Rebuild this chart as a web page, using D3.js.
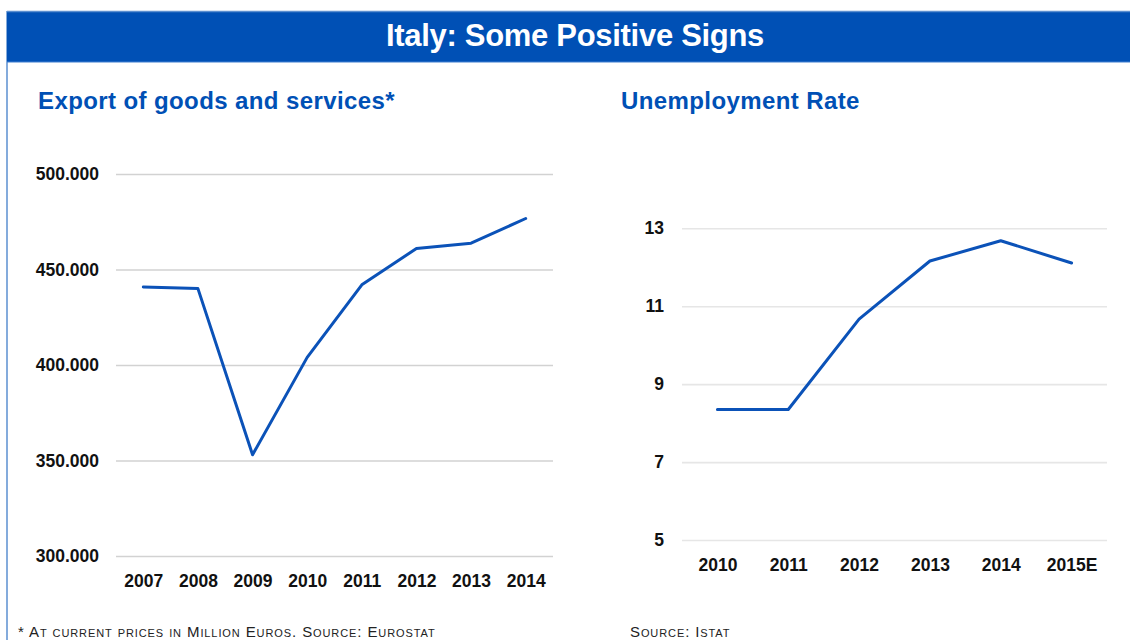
<!DOCTYPE html>
<html>
<head>
<meta charset="utf-8">
<script src="https://cdn.jsdelivr.net/npm/d3@7"></script>
<style>
  html, body { margin: 0; padding: 0; background: #fff; }
  svg { display: block; }
  text { font-family: "Liberation Sans", Arial, Helvetica, sans-serif; }
</style>
</head>
<body>
<svg id="chart" width="1130" height="640"></svg>
<script>
// ---------- DATA ----------
const title = "Italy: Some Positive Signs";

const exportTitle = "Export of goods and services*";
const exportYears = ["2007", "2008", "2009", "2010", "2011", "2012", "2013", "2014"];
const exportValues = [440.8, 440.0, 353.0, 404.0, 442.0, 461.0, 463.8, 476.7]; // thousand million euros
const exportTicks = [300, 350, 400, 450, 500];
const exportTickLabels = ["300.000", "350.000", "400.000", "450.000", "500.000"];
const exportNote = "* At current prices in Million Euros. Source: Eurostat";

const unempTitle = "Unemployment Rate";
const unempYears = ["2010", "2011", "2012", "2013", "2014", "2015E"];
const unempValues = [8.35, 8.35, 10.67, 12.16, 12.68, 12.11];
const unempTicks = [5, 7, 9, 11, 13];
const unempNote = "Source: Istat";

// ---------- STYLE ----------
const blue = "#0050b5";
const lineBlue = "#0b52b8";
const svg = d3.select("#chart");

// frame
svg.append("line").attr("x1", 7).attr("x2", 7).attr("y1", 11).attr("y2", 640)
  .attr("stroke", "#5b8fd0").attr("stroke-width", 1.5);
svg.append("rect").attr("x", 7).attr("y", 11).attr("width", 1123).attr("height", 51)
  .attr("fill", blue);
svg.append("line").attr("x1", 7).attr("x2", 1130).attr("y1", 11.5).attr("y2", 11.5)
  .attr("stroke", "#5b8fd0").attr("stroke-width", 1.5);
svg.append("line").attr("x1", 7).attr("x2", 1130).attr("y1", 62).attr("y2", 62)
  .attr("stroke", "#3f7fd0").attr("stroke-width", 1);
svg.append("text").attr("x", 575).attr("y", 46).attr("text-anchor", "middle")
  .attr("fill", "#fff").attr("font-weight", "bold").attr("font-size", 31)
  .attr("letter-spacing", -0.3)
  .text(title);

function panel(cfg) {
  const g = svg.append("g");
  g.append("text").attr("x", cfg.titleX).attr("y", 109)
    .attr("fill", blue).attr("font-weight", "bold").attr("font-size", 24)
    .attr("letter-spacing", 0.4)
    .text(cfg.title);

  const x = d3.scalePoint().domain(cfg.cats).range([cfg.x0, cfg.x1]).padding(0.5);
  const y = d3.scaleLinear().domain(cfg.domain).range([cfg.yBottom, cfg.yTop]);

  // grid + y labels
  const yAxis = d3.axisLeft(y).tickValues(cfg.ticks)
    .tickSize(-(cfg.x1 - cfg.x0)).tickPadding(cfg.labelGap)
    .tickFormat((d, i) => cfg.tickLabels ? cfg.tickLabels[i] : d);
  const ya = g.append("g").attr("transform", `translate(${cfg.x0},0)`).call(yAxis);
  ya.select(".domain").remove();
  ya.selectAll(".tick line").attr("stroke", cfg.gridColor).attr("stroke-width", 1.6);
  ya.selectAll(".tick text").attr("fill", "#111").attr("font-weight", "bold")
    .attr("font-size", 17.5).attr("font-family", "Liberation Sans, Arial, sans-serif");

  // x labels
  const xAxis = d3.axisBottom(x).tickSize(0).tickPadding(0);
  const xa = g.append("g").attr("transform", `translate(0,${cfg.xLabelY})`).call(xAxis);
  xa.select(".domain").remove();
  xa.selectAll(".tick text").attr("fill", "#111").attr("font-weight", "bold")
    .attr("font-size", 17.5).attr("dy", "0").attr("font-family", "Liberation Sans, Arial, sans-serif");

  // line
  const line = d3.line().x((d, i) => x(cfg.cats[i])).y(d => y(d));
  g.append("path").datum(cfg.values).attr("d", line)
    .attr("fill", "none").attr("stroke", lineBlue).attr("stroke-width", 3)
    .attr("stroke-linejoin", "round").attr("stroke-linecap", "round");

  // note
  g.append("text").attr("x", cfg.noteX).attr("y", 637)
    .attr("fill", "#222").attr("font-size", 15).attr("letter-spacing", 0.9)
    .style("font-variant", "small-caps")
    .text(cfg.note);
}

panel({
  title: exportTitle, titleX: 38,
  cats: exportYears, values: exportValues,
  domain: [300, 500], ticks: exportTicks, tickLabels: exportTickLabels,
  x0: 116, x1: 553, yTop: 174, yBottom: 556, labelGap: 17,
  gridColor: "#d2d2d2", xLabelY: 587,
  note: exportNote, noteX: 18
});

panel({
  title: unempTitle, titleX: 621,
  cats: unempYears, values: unempValues,
  domain: [5, 13], ticks: unempTicks, tickLabels: null,
  x0: 682, x1: 1107, yTop: 228.3, yBottom: 540, labelGap: 18,
  gridColor: "#e6e6e6", xLabelY: 571,
  note: unempNote, noteX: 630
});
</script>
</body>
</html>
